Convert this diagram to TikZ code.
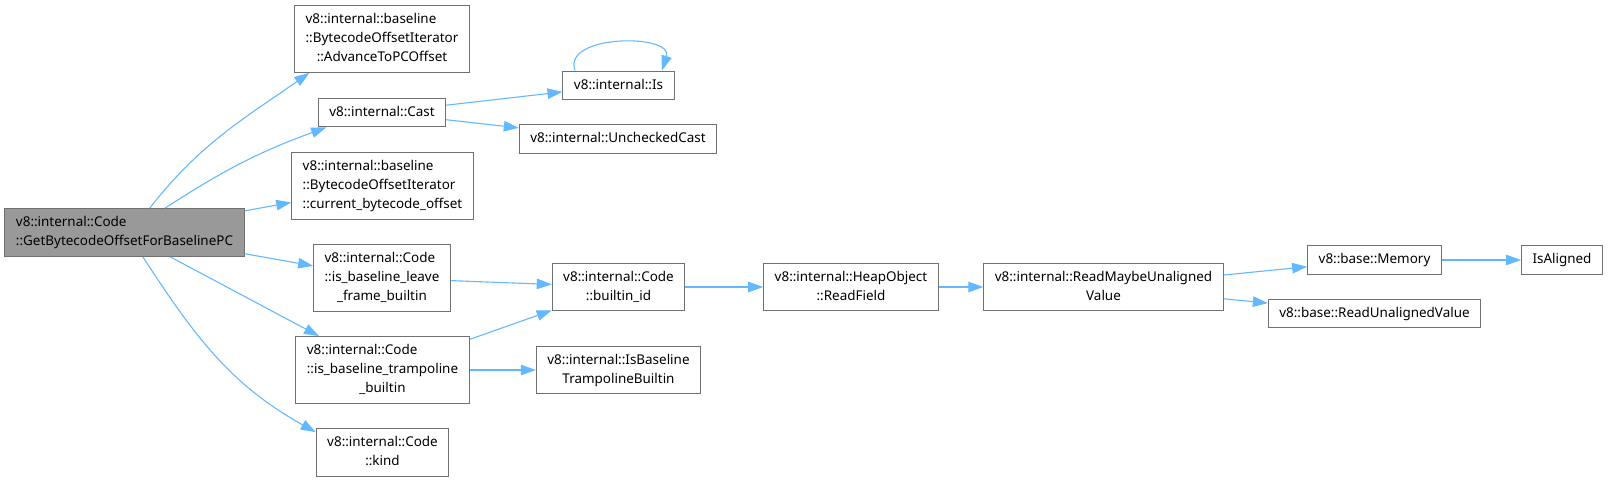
\documentclass[tikz,border=0pt]{standalone}
\usepackage{fontspec}
\setmainfont{Noto Sans}
\usetikzlibrary{arrows.meta}

% doxygen style labels: all lines left, last line centred
\newcommand{\lbltwo}[2]{\begin{tabular}{@{}l@{}}#1\\\multicolumn{1}{@{}c@{}}{#2}\end{tabular}}
\newcommand{\lblthree}[3]{\begin{tabular}{@{}l@{}}#1\\#2\\\multicolumn{1}{@{}c@{}}{#3}\end{tabular}}

\begin{document}
\begin{tikzpicture}[x=1bp, y=1bp,
    fn/.style={draw=fnedge, fill=white, line width=1bp, inner xsep=11bp, inner ysep=5bp,
               font=\fontsize{13.5}{19}\selectfont},
    mainfn/.style={fn, fill=fnmain},
    call/.style={draw=callblue, line width=1.1bp, -{Triangle[length=15bp, width=10.5bp]}}]
    \definecolor{callblue}{HTML}{63B8FF}
    \definecolor{fnedge}{HTML}{707070}
    \definecolor{fnmain}{HTML}{999999}

    \useasboundingbox (0,0) rectangle (1612,-482);

    % the function itself (filled)
    \node[mainfn] (getoff) at (124.5,-232.5) {\lbltwo{v8::internal::Code}{::GetBytecodeOffsetForBaselinePC}};

    % direct callees
    \node[fn] (advance)  at (382,-39)    {\lblthree{v8::internal::baseline}{::BytecodeOffsetIterator}{::AdvanceToPCOffset}};
    \node[fn] (cast)     at (382,-112.5) {\strut v8::internal::Cast};
    \node[fn] (curoff)   at (382.5,-186) {\lblthree{v8::internal::baseline}{::BytecodeOffsetIterator}{::current\_bytecode\_offset}};
    \node[fn] (leavefr)  at (382,-278)   {\lblthree{v8::internal::Code}{::is\_baseline\_leave}{\_frame\_builtin}};
    \node[fn] (tramp)    at (382.5,-370) {\lblthree{v8::internal::Code}{::is\_baseline\_trampoline}{\_builtin}};
    \node[fn] (kind)     at (382.5,-452.5) {\lbltwo{v8::internal::Code}{::kind}};

    % second level
    \node[fn] (is)        at (618.5,-85.5) {\strut v8::internal::Is};
    \node[fn] (unchecked) at (618,-139)    {\strut v8::internal::UncheckedCast};
    \node[fn] (builtinid) at (618.5,-287)  {\lbltwo{v8::internal::Code}{::builtin\_id}};
    \node[fn] (istramp)   at (618.5,-370)  {\lbltwo{v8::internal::IsBaseline}{TrampolineBuiltin}};

    % field read chain
    \node[fn] (readfield) at (851,-287)     {\lbltwo{v8::internal::HeapObject}{::ReadField}};
    \node[fn] (readmaybe) at (1103.5,-287)  {\lbltwo{v8::internal::ReadMaybeUnaligned}{Value}};
    \node[fn] (memory)    at (1374.5,-260)  {\strut v8::base::Memory};
    \node[fn] (readunal)  at (1374.5,-313.5) {\strut v8::base::ReadUnalignedValue};
    \node[fn] (isaligned) at (1562,-260)    {\strut IsAligned};

    % calls out of the main function
    \draw[call] (getoff.44) to[out=52, in=215] (advance.205);
    \draw[call] (getoff.31) to[out=33, in=200] (cast.195);
    \draw[call] (getoff) -- (curoff);
    \draw[call] (getoff) -- (leavefr);
    \draw[call] (getoff) -- (tramp);
    \draw[call] (getoff.-53) to[out=-57, in=151] (kind.163);

    % further calls
    \draw[call] (cast) -- (is);
    \draw[call] (cast) -- (unchecked);
    \draw[call] (is.161) to[out=110, in=72, looseness=1.15] (is.19); % recursive
    \draw[call] (leavefr) -- (builtinid);
    \draw[call] (tramp) -- (builtinid);
    \draw[call] (tramp) -- (istramp);
    \draw[call] (builtinid) -- (readfield);
    \draw[call] (readfield) -- (readmaybe);
    \draw[call] (readmaybe) -- (memory);
    \draw[call] (readmaybe) -- (readunal);
    \draw[call] (memory) -- (isaligned);
\end{tikzpicture}
\end{document}
